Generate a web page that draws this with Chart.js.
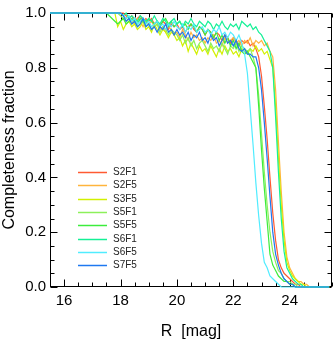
<!DOCTYPE html>
<html>
<head>
<meta charset="utf-8">
<script src="https://cdn.jsdelivr.net/npm/chart.js@4.4.1/dist/chart.umd.min.js"></script>
<style>
  html, body { margin: 0; padding: 0; background: #fff; }
  canvas { display: block; }
</style>
</head>
<body>
<canvas id="chart" width="333" height="341"></canvas>
<script>
// magnitude bins (first point just anchors the flat part at the left edge)
const mags = [15.5,
  17.5, 17.6, 17.7, 17.8, 17.9,
  18.0, 18.1, 18.2, 18.3, 18.4, 18.5, 18.6, 18.7, 18.8, 18.9,
  19.0, 19.1, 19.2, 19.3, 19.4, 19.5, 19.6, 19.7, 19.8, 19.9,
  20.0, 20.1, 20.2, 20.3, 20.4, 20.5, 20.6, 20.7, 20.8, 20.9,
  21.0, 21.1, 21.2, 21.3, 21.4, 21.5, 21.6, 21.7, 21.8, 21.9,
  22.0, 22.1, 22.2, 22.3, 22.4,
  22.5, 22.6, 22.7, 22.8, 22.9, 23.0, 23.1, 23.2, 23.3, 23.4,
  23.5, 23.6, 23.7, 23.8, 23.9, 24.0, 24.1, 24.2, 24.3, 24.4,
  24.5, 24.6, 24.7, 24.8, 24.9, 25.0, 25.1, 25.2, 25.3, 25.4];

const seriesNames = ['S2F1', 'S2F5', 'S3F5', 'S5F1', 'S5F5', 'S6F1', 'S6F5', 'S7F5'];
const seriesColors = ['#ff5a32', '#ffb43c', '#d2f000', '#8cf05a', '#3cec3c', '#14f096', '#50ecff', '#1e78f0'];

const s2f1 = [1,
  1, 1, 1, 1, 1,
  1, 1, 0.99, 0.98, 0.99, 0.97, 0.98, 0.99, 0.97, 0.98,
  0.97, 0.98, 0.96, 0.97, 0.95, 0.97, 0.96, 0.94, 0.96, 0.95,
  0.96, 0.94, 0.95, 0.93, 0.95, 0.96, 0.94, 0.93, 0.95, 0.94,
  0.92, 0.94, 0.93, 0.91, 0.93, 0.92, 0.9, 0.92, 0.91, 0.89,
  0.91, 0.9, 0.88, 0.9, 0.89,
  0.9, 0.88, 0.89, 0.87, 0.84, 0.77, 0.66, 0.54, 0.4, 0.27,
  0.17, 0.1, 0.07, 0.05, 0.04, 0.03, 0.02, 0.01, 0.01, 0,
  0, 0, 0, 0, 0, 0, 0, 0, 0, 0];
const s2f5 = [1,
  1, 1, 1, 1, 1,
  1, 0.99, 0.98, 0.99, 0.97, 0.96, 0.98, 0.97, 0.95, 0.97,
  0.96, 0.97, 0.95, 0.96, 0.94, 0.95, 0.93, 0.95, 0.94, 0.92,
  0.93, 0.91, 0.94, 0.92, 0.9, 0.93, 0.91, 0.92, 0.9, 0.91,
  0.89, 0.91, 0.9, 0.92, 0.89, 0.9, 0.88, 0.91, 0.89, 0.9,
  0.91, 0.89, 0.9, 0.88, 0.9,
  0.89, 0.91, 0.88, 0.9, 0.89, 0.9, 0.88, 0.89, 0.86, 0.84,
  0.72, 0.53, 0.35, 0.2, 0.11, 0.07, 0.05, 0.03, 0.02, 0.02,
  0.01, 0.01, 0, 0, 0, 0, 0, 0, 0, 0];
const s3f5 = [1,
  1, 1, 1, 1, 0.95,
  0.97, 0.94, 0.96, 0.97, 0.95, 0.96, 0.94, 0.95, 0.97, 0.94,
  0.95, 0.93, 0.96, 0.94, 0.92, 0.94, 0.93, 0.91, 0.93, 0.92,
  0.9, 0.91, 0.88, 0.9, 0.86, 0.89, 0.87, 0.85, 0.88, 0.86,
  0.87, 0.85, 0.88, 0.86, 0.84, 0.87, 0.85, 0.88, 0.86, 0.87,
  0.85, 0.86, 0.84, 0.87, 0.86,
  0.85, 0.87, 0.86, 0.88, 0.86, 0.87, 0.85, 0.86, 0.83, 0.8,
  0.66, 0.47, 0.3, 0.17, 0.09, 0.06, 0.04, 0.03, 0.02, 0.01,
  0.01, 0, 0, 0, 0, 0, 0, 0, 0, 0];
const s5f1 = [1,
  1, 1, 1, 1, 1,
  0.99, 0.98, 0.97, 0.98, 0.96, 0.97, 0.95, 0.96, 0.97, 0.95,
  0.96, 0.94, 0.95, 0.96, 0.93, 0.95, 0.94, 0.92, 0.94, 0.93,
  0.92, 0.9, 0.92, 0.89, 0.91, 0.88, 0.9, 0.87, 0.89, 0.9,
  0.88, 0.86, 0.89, 0.87, 0.88, 0.86, 0.89, 0.87, 0.85, 0.88,
  0.87, 0.89, 0.86, 0.88, 0.87,
  0.86, 0.87, 0.84, 0.8, 0.7, 0.56, 0.42, 0.3, 0.2, 0.13,
  0.09, 0.06, 0.05, 0.03, 0.02, 0.02, 0.01, 0.01, 0, 0,
  0, 0, 0, 0, 0, 0, 0, 0, 0, 0];
const s5f5 = [1,
  1, 0.99, 0.98, 0.97, 0.96,
  0.97, 0.98, 0.96, 0.97, 0.98, 0.97, 0.96, 0.98, 0.97, 0.96,
  0.98, 0.97, 0.96, 0.97, 0.95, 0.97, 0.98, 0.96, 0.97, 0.95,
  0.96, 0.97, 0.95, 0.96, 0.94, 0.96, 0.95, 0.93, 0.95, 0.94,
  0.92, 0.94, 0.93, 0.91, 0.93, 0.9, 0.92, 0.89, 0.91, 0.88,
  0.9, 0.87, 0.89, 0.86, 0.85,
  0.86, 0.84, 0.82, 0.8, 0.66, 0.5, 0.36, 0.24, 0.12, 0.08,
  0.06, 0.04, 0.03, 0.02, 0.02, 0.01, 0.01, 0, 0, 0,
  0, 0, 0, 0, 0, 0, 0, 0, 0, 0];
const s6f1 = [1,
  1, 1, 1, 1, 1,
  1, 0.99, 1, 0.98, 0.99, 0.98, 0.97, 0.99, 0.98, 0.97,
  0.98, 0.97, 0.99, 0.97, 0.96, 0.98, 0.97, 0.95, 0.97, 0.98,
  0.96, 0.97, 0.95, 0.97, 0.96, 0.98, 0.96, 0.95, 0.97, 0.96,
  0.95, 0.97, 0.96, 0.94, 0.96, 0.95, 0.97, 0.95, 0.94, 0.96,
  0.95, 0.96, 0.94, 0.97, 0.96,
  0.95, 0.96, 0.94, 0.95, 0.93, 0.92, 0.9, 0.88, 0.86, 0.8,
  0.62, 0.42, 0.25, 0.13, 0.07, 0.05, 0.03, 0.02, 0.01, 0.01,
  0, 0, 0, 0, 0, 0, 0, 0, 0, 0];
const s6f5 = [1,
  1, 1, 1, 1, 1,
  1, 0.99, 0.98, 0.99, 0.97, 0.98, 0.96, 0.97, 0.98, 0.96,
  0.97, 0.95, 0.96, 0.97, 0.95, 0.96, 0.94, 0.96, 0.95, 0.97,
  0.95, 0.94, 0.96, 0.93, 0.95, 0.94, 0.96, 0.93, 0.94, 0.95,
  0.93, 0.94, 0.92, 0.94, 0.93, 0.95, 0.92, 0.93, 0.91, 0.93,
  0.92, 0.9, 0.92, 0.89, 0.85,
  0.78, 0.65, 0.52, 0.38, 0.26, 0.16, 0.09, 0.07, 0.04, 0.03,
  0.02, 0.01, 0, 0, 0, 0, 0, 0, 0, 0,
  0, 0, 0, 0, 0, 0, 0, 0, 0, 0];
const s7f5 = [1,
  1, 1, 1, 1, 1,
  1, 0.99, 0.97, 0.98, 0.96, 0.97, 0.95, 0.96, 0.98, 0.95,
  0.96, 0.94, 0.95, 0.93, 0.95, 0.94, 0.96, 0.93, 0.94, 0.92,
  0.94, 0.92, 0.93, 0.91, 0.93, 0.9, 0.92, 0.91, 0.93, 0.9,
  0.91, 0.89, 0.92, 0.9, 0.91, 0.88, 0.9, 0.92, 0.89, 0.9,
  0.88, 0.9, 0.87, 0.86, 0.87,
  0.85, 0.85, 0.84, 0.84, 0.8, 0.72, 0.6, 0.47, 0.33, 0.2,
  0.12, 0.08, 0.05, 0.03, 0.02, 0.01, 0.01, 0, 0, 0,
  0, 0, 0, 0, 0, 0, 0, 0, 0, 0];

const seriesValues = [s2f1, s2f5, s3f5, s5f1, s5f5, s6f1, s6f5, s7f5];

const xTickValues = [16, 18, 20, 22, 24];
const yTickValues = [0, 0.2, 0.4, 0.6, 0.8, 1.0];
const xMinorStep = 0.5;
const yMinorStep = 0.05;

const FONT = 'Liberation Sans, Arial, Helvetica, sans-serif';

// IDL style frame with inward ticks on all four sides
const frameTicks = {
    id: 'frameTicks',
    beforeDatasetsDraw: (chart) => {
        const { ctx, chartArea: a, scales } = chart;
        const xs = scales.x, ys = scales.y;
        const left = Math.round(a.left) + 0.5, right = Math.round(a.right) - 0.5;
        const top = Math.round(a.top) + 0.5, bottom = Math.round(a.bottom) - 0.5;
        ctx.save();
        ctx.strokeStyle = '#000';
        ctx.lineWidth = 1;
        ctx.strokeRect(left, top, right - left, bottom - top);
        ctx.beginPath();
        for (let v = xs.min; v <= xs.max + 1e-9; v += xMinorStep) {
            const major = xTickValues.some(t => Math.abs(t - v) < 1e-6);
            const len = major ? 7 : 4;
            const px = Math.round(xs.getPixelForValue(v)) + 0.5;
            ctx.moveTo(px, bottom); ctx.lineTo(px, bottom - len);
            ctx.moveTo(px, top); ctx.lineTo(px, top + len);
        }
        for (let v = ys.min; v <= ys.max + 1e-9; v += yMinorStep) {
            const major = yTickValues.some(t => Math.abs(t - v) < 1e-6);
            const len = major ? 7 : 4;
            const py = Math.round(ys.getPixelForValue(v)) + 0.5;
            ctx.moveTo(left, py); ctx.lineTo(left + len, py);
            ctx.moveTo(right, py); ctx.lineTo(right - len, py);
        }
        ctx.stroke();
        ctx.restore();
    }
};

// legend inside the plot, lower left
const insideLegend = {
    id: 'insideLegend',
    afterDatasetsDraw: (chart) => {
        const { ctx, chartArea: a } = chart;
        ctx.save();
        ctx.font = '10px ' + FONT;
        ctx.textBaseline = 'middle';
        ctx.textAlign = 'left';
        chart.data.datasets.forEach((ds, i) => {
            const y = Math.round(a.top + 159 + i * 13.3) + 0.5;
            ctx.strokeStyle = ds.borderColor;
            ctx.lineWidth = 1.5;
            ctx.beginPath();
            ctx.moveTo(a.left + 28, y);
            ctx.lineTo(a.left + 57, y);
            ctx.stroke();
            ctx.fillStyle = '#222';
            ctx.fillText(ds.label, a.left + 63, y);
        });
        ctx.restore();
    }
};

const datasets = seriesNames.map((name, i) => ({
    label: name,
    data: seriesValues[i].map((v, k) => ({ x: mags[k], y: v })),
    borderColor: seriesColors[i],
    backgroundColor: seriesColors[i],
    borderWidth: 1.2,
    pointRadius: 0,
    tension: 0,
    clip: 2,
    order: seriesNames.length - 1 - i
}));

new Chart(document.getElementById('chart'), {
    type: 'line',
    data: { datasets: datasets },
    options: {
        responsive: false,
        animation: false,
        devicePixelRatio: 1,
        layout: { padding: { top: 6, right: 1, left: 0, bottom: 0 } },
        plugins: {
            legend: { display: false },
            tooltip: { enabled: false }
        },
        scales: {
            x: {
                type: 'linear',
                min: 15.5,
                max: 25.5,
                afterBuildTicks: (scale) => { scale.ticks = xTickValues.map(v => ({ value: v })); },
                afterFit: (scale) => { scale.height = 54; },
                grid: { display: false, drawTicks: false },
                border: { display: false },
                ticks: {
                    padding: 5,
                    maxRotation: 0,
                    autoSkip: false,
                    color: '#000',
                    font: { family: FONT, size: 15 },
                    callback: (v) => String(v)
                },
                title: {
                    display: true,
                    text: 'R  [mag]',
                    color: '#000',
                    padding: 0,
                    font: { family: FONT, size: 16 }
                }
            },
            y: {
                type: 'linear',
                min: 0,
                max: 1,
                afterBuildTicks: (scale) => { scale.ticks = yTickValues.map(v => ({ value: v })); },
                afterFit: (scale) => { scale.width = 50; },
                grid: { display: false, drawTicks: false },
                border: { display: false },
                ticks: {
                    padding: 4,
                    autoSkip: false,
                    color: '#000',
                    font: { family: FONT, size: 15 },
                    callback: (v) => v.toFixed(1)
                },
                title: {
                    display: true,
                    text: 'Completeness fraction',
                    color: '#000',
                    padding: 0,
                    font: { family: FONT, size: 16 }
                }
            }
        }
    },
    plugins: [frameTicks, insideLegend]
});
</script>
</body>
</html>
